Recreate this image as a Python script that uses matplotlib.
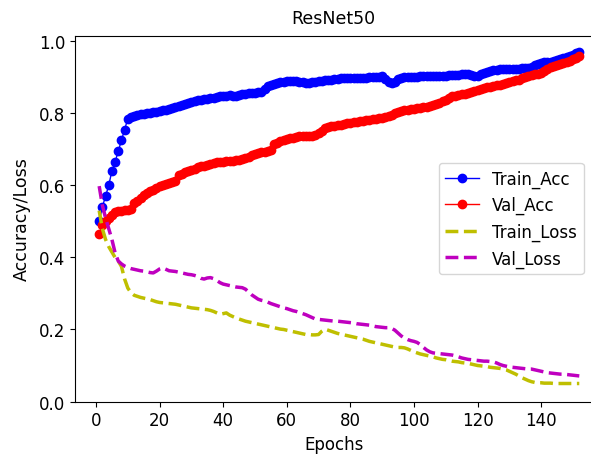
import matplotlib
matplotlib.use("Agg")
import matplotlib.pyplot as plt
import numpy as np

# ── values (one per epoch) ──────────────────────────────────────────────────
train_acc = [
    0.500, 0.540, 0.570, 0.600, 0.640, 0.665, 0.695, 0.725, 0.755, 0.785,
    0.790, 0.792, 0.795, 0.797, 0.798, 0.800, 0.802, 0.803, 0.805, 0.806,
    0.808, 0.809, 0.811, 0.814, 0.817, 0.820, 0.822, 0.825, 0.828, 0.832,
    0.834, 0.836, 0.838, 0.840, 0.841, 0.842, 0.844, 0.846, 0.847, 0.848,
    0.849, 0.850, 0.848, 0.849, 0.852, 0.854, 0.855, 0.856, 0.857, 0.857,
    0.858, 0.858, 0.868, 0.876, 0.880, 0.882, 0.884, 0.886, 0.888, 0.889,
    0.890, 0.891, 0.890, 0.888, 0.886, 0.885, 0.885, 0.886, 0.888, 0.890,
    0.891, 0.892, 0.893, 0.894, 0.895, 0.896, 0.897, 0.898, 0.898, 0.899,
    0.899, 0.899, 0.899, 0.899, 0.899, 0.900, 0.900, 0.901, 0.902, 0.903,
    0.895, 0.886, 0.884, 0.888, 0.895, 0.899, 0.900, 0.900, 0.901, 0.902,
    0.902, 0.903, 0.903, 0.903, 0.904, 0.904, 0.904, 0.905, 0.905, 0.905,
    0.906, 0.906, 0.907, 0.907, 0.908, 0.908, 0.908, 0.906, 0.904, 0.905,
    0.908, 0.912, 0.915, 0.918, 0.920, 0.921, 0.922, 0.922, 0.922, 0.923,
    0.923, 0.924, 0.924, 0.925, 0.926, 0.927, 0.930, 0.934, 0.938, 0.941,
    0.942, 0.943, 0.944, 0.945, 0.947, 0.950, 0.954, 0.957, 0.960, 0.963,
    0.967, 0.970,
]
val_acc = [
    0.464, 0.490, 0.500, 0.510, 0.518, 0.525, 0.528, 0.530, 0.532, 0.533,
    0.535, 0.550, 0.558, 0.565, 0.572, 0.578, 0.584, 0.588, 0.593, 0.597,
    0.600, 0.603, 0.606, 0.609, 0.612, 0.628, 0.632, 0.636, 0.640, 0.643,
    0.646, 0.650, 0.653, 0.655, 0.658, 0.660, 0.662, 0.664, 0.665, 0.666,
    0.667, 0.668, 0.669, 0.670, 0.671, 0.673, 0.676, 0.680, 0.684, 0.688,
    0.691, 0.693, 0.694, 0.695, 0.697, 0.716, 0.719, 0.722, 0.725, 0.728,
    0.731, 0.733, 0.735, 0.737, 0.737, 0.738, 0.738, 0.738, 0.739, 0.745,
    0.752, 0.760, 0.762, 0.764, 0.766, 0.768, 0.769, 0.770, 0.772, 0.774,
    0.775, 0.777, 0.778, 0.780, 0.781, 0.782, 0.783, 0.784, 0.786, 0.788,
    0.789, 0.792, 0.796, 0.800, 0.803, 0.806, 0.808, 0.810, 0.811, 0.813,
    0.814, 0.815, 0.817, 0.819, 0.821, 0.823, 0.825, 0.828, 0.833, 0.838,
    0.843, 0.847, 0.849, 0.851, 0.853, 0.855, 0.857, 0.860, 0.863, 0.866,
    0.868, 0.870, 0.872, 0.874, 0.876, 0.878, 0.880, 0.882, 0.885, 0.888,
    0.890, 0.892, 0.894, 0.897, 0.900, 0.903, 0.906, 0.908, 0.910, 0.913,
    0.918, 0.924, 0.928, 0.931, 0.934, 0.937, 0.940, 0.943, 0.946, 0.950,
    0.955, 0.959,
]
train_loss = [
    0.530, 0.480, 0.450, 0.430, 0.415, 0.400, 0.390, 0.375, 0.340, 0.315,
    0.302, 0.295, 0.292, 0.289, 0.287, 0.285, 0.283, 0.280, 0.277, 0.275,
    0.274, 0.273, 0.272, 0.271, 0.270, 0.268, 0.266, 0.264, 0.262, 0.260,
    0.259, 0.258, 0.257, 0.256, 0.255, 0.253, 0.250, 0.246, 0.242, 0.244,
    0.246, 0.240, 0.236, 0.232, 0.229, 0.226, 0.223, 0.221, 0.219, 0.217,
    0.215, 0.213, 0.211, 0.209, 0.207, 0.205, 0.203, 0.201, 0.200, 0.198,
    0.196, 0.194, 0.192, 0.190, 0.188, 0.186, 0.186, 0.185, 0.185, 0.186,
    0.195, 0.201, 0.198, 0.195, 0.192, 0.189, 0.187, 0.185, 0.183, 0.181,
    0.179, 0.177, 0.175, 0.173, 0.170, 0.167, 0.165, 0.163, 0.161, 0.159,
    0.157, 0.155, 0.153, 0.151, 0.150, 0.150, 0.149, 0.146, 0.142, 0.138,
    0.135, 0.132, 0.130, 0.128, 0.126, 0.124, 0.121, 0.119, 0.117, 0.116,
    0.114, 0.112, 0.111, 0.110, 0.108, 0.107, 0.106, 0.104, 0.102, 0.100,
    0.099, 0.098, 0.097, 0.095, 0.094, 0.093, 0.092, 0.090, 0.088, 0.084,
    0.080, 0.076, 0.071, 0.066, 0.062, 0.058, 0.055, 0.053, 0.052, 0.052,
    0.051, 0.051, 0.051, 0.050, 0.050, 0.050, 0.050, 0.050, 0.050, 0.050,
    0.050, 0.050,
]
val_loss = [
    0.598, 0.545, 0.510, 0.480, 0.450, 0.413, 0.390, 0.382, 0.376, 0.372,
    0.369, 0.367, 0.365, 0.363, 0.362, 0.360, 0.358, 0.357, 0.362, 0.368,
    0.371, 0.367, 0.363, 0.362, 0.361, 0.359, 0.357, 0.355, 0.353, 0.352,
    0.350, 0.347, 0.342, 0.340, 0.343, 0.344, 0.341, 0.336, 0.330, 0.326,
    0.324, 0.322, 0.320, 0.318, 0.317, 0.316, 0.312, 0.304, 0.296, 0.290,
    0.284, 0.281, 0.279, 0.276, 0.272, 0.269, 0.266, 0.263, 0.260, 0.258,
    0.255, 0.252, 0.250, 0.247, 0.244, 0.241, 0.237, 0.233, 0.229, 0.228,
    0.227, 0.226, 0.225, 0.224, 0.223, 0.223, 0.222, 0.221, 0.220, 0.219,
    0.218, 0.216, 0.215, 0.214, 0.213, 0.212, 0.210, 0.208, 0.207, 0.206,
    0.205, 0.205, 0.203, 0.198, 0.190, 0.182, 0.176, 0.172, 0.169, 0.167,
    0.164, 0.158, 0.150, 0.143, 0.138, 0.135, 0.134, 0.133, 0.132, 0.131,
    0.130, 0.129, 0.127, 0.124, 0.121, 0.119, 0.117, 0.116, 0.115, 0.114,
    0.113, 0.112, 0.112, 0.111, 0.110, 0.107, 0.103, 0.100, 0.098, 0.096,
    0.095, 0.094, 0.093, 0.092, 0.091, 0.090, 0.090, 0.088, 0.086, 0.084,
    0.082, 0.080, 0.079, 0.078, 0.077, 0.076, 0.076, 0.075, 0.074, 0.073,
    0.072, 0.071,
]
epochs = np.arange(1, len(train_acc) + 1)

# ── plot ────────────────────────────────────────────────────────────────────
plt.rcParams["font.size"] = 12
fig = plt.figure(figsize=(5.91, 4.56), dpi=100)
# right spine sits on the image edge, as in the reference
ax = fig.add_axes([0.1272, 0.1173, 0.8745, 0.8025])

ax.plot(epochs, train_acc, "bo-", markersize=6, linewidth=1, label="Train_Acc")
ax.plot(epochs, val_acc, "ro-", markersize=6, linewidth=1, label="Val_Acc")
ax.plot(epochs, train_loss, "y--", linewidth=2.5, label="Train_Loss")
ax.plot(epochs, val_loss, "m--", linewidth=2.5, label="Val_Loss")

ax.set_xlim(-6.55, 156.0)
ax.set_ylim(0.0, 1.016)
ax.tick_params(labelsize=12)
ax.set_title("ResNet50", fontsize=12.5, pad=9)
ax.set_xlabel("Epochs", fontsize=12)
ax.set_ylabel("Accuracy/Loss", fontsize=12.5, labelpad=6)
ax.legend(loc="center right", fontsize=12)

fig.savefig("out.png", dpi=100)
